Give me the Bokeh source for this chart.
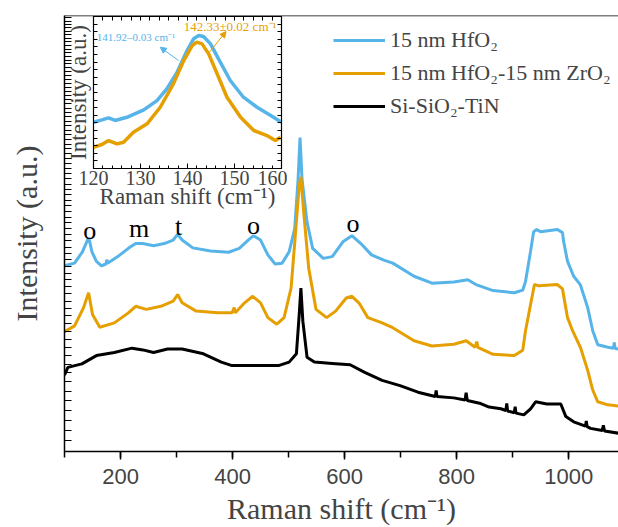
import numpy as np
from bokeh.plotting import figure
from bokeh.models import (Range1d, FixedTicker, LinearAxis, Legend, LegendItem,
                          Span, Arrow, NormalHead, Label)
from bokeh.core.properties import value
from bokeh.embed import file_html
from bokeh.resources import INLINE

# ---------------- data ----------------
hfo2_x = [100, 118, 132, 141, 143.5, 149, 157, 166, 174, 175.5,
          177, 195, 214, 227, 240, 259, 278, 294, 302, 310,
          329, 361, 393, 412, 428, 437.5, 450, 463, 476, 488.5,
          501, 511, 517, 520.5, 524, 533, 543, 562, 578, 597,
          613, 629, 648, 670, 686, 724, 756, 795, 820, 836,
          865, 903, 918, 923, 932, 937.5, 943, 950, 980, 989,
          991, 998, 1009, 1021, 1034, 1043, 1052, 1070, 1080, 1081.5,
          1083, 1089]
hfo2_y = [42.6, 43.2, 45.8, 48.5, 49.0, 45.8, 43.6, 42.6, 43.0, 44.0,
          43.2, 44.7, 46.6, 47.7, 47.7, 47.2, 47.7, 48.5, 49.8, 48.5,
          46.7, 46.0, 45.7, 46.6, 48.5, 49.5, 48.5, 45.1, 43.0, 43.2,
          45.8, 51.1, 62.5, 72.0, 62.5, 52.6, 46.6, 44.3, 44.7, 48.1,
          49.5, 47.7, 45.1, 43.9, 43.2, 40.2, 38.6, 38.9, 39.4, 38.2,
          36.9, 36.4, 37.0, 39.0, 45.9, 50.4, 50.9, 50.4, 50.9, 50.2,
          48.2, 43.6, 40.2, 38.2, 33.0, 27.7, 24.5, 23.9, 23.7, 25.0,
          23.6, 23.5]

zro2_x = [100, 118, 134, 143, 150, 163, 189, 214, 227, 246,
          272, 294, 302, 310, 335, 374, 399, 403, 405, 421.5,
          436, 450, 463, 479, 492, 504.5, 513, 519, 522, 527,
          536, 549, 568, 584, 603, 613, 625.5, 641.6, 667, 686,
          724, 756, 795, 817, 833, 836, 838, 865, 903, 918,
          923, 932, 939, 947, 980, 989, 998, 1007, 1021, 1034,
          1043, 1052, 1070, 1089]
zro2_y = [27.5, 28.8, 33.0, 36.4, 31.4, 28.5, 29.5, 31.8, 33.3, 32.6,
          33.3, 34.5, 36.0, 34.1, 32.2, 31.8, 31.8, 33.0, 31.8, 34.1,
          35.6, 34.1, 30.7, 29.2, 30.7, 37.5, 51.1, 61.0, 63.0, 54.9,
          42.0, 32.6, 30.7, 32.2, 35.2, 35.6, 34.1, 30.7, 29.5, 28.4,
          25.4, 24.2, 24.6, 25.4, 23.9, 25.2, 23.9, 22.3, 22.0, 23.2,
          27.7, 33.7, 38.3, 38.0, 38.3, 37.3, 30.7, 27.7, 23.9, 18.6,
          14.1, 11.4, 10.7, 10.4]

tin_x = [100, 106, 131, 157, 189, 220.5, 240, 259, 284, 310,
         348, 380, 399, 444, 482, 501, 514, 519, 522, 525.5,
         533, 546, 578, 610, 635, 667, 699, 731, 762, 763.5,
         765, 795, 815, 817, 819, 843, 858, 879, 888, 889.5,
         891, 903, 904.5, 906, 920, 932, 941, 961, 986, 995,
         1009, 1030, 1031.5, 1033, 1039, 1060, 1062, 1064, 1089]
tin_y = [17.5, 19.3, 20.1, 22.0, 22.7, 23.7, 23.3, 22.7, 23.5, 23.5,
         22.4, 20.5, 19.7, 19.7, 19.7, 20.5, 22.4, 31.4, 37.5, 29.9,
         21.6, 20.5, 20.2, 19.9, 18.2, 16.3, 15.1, 13.6, 12.6, 14.0,
         12.6, 12.3, 11.8, 13.5, 11.7, 11.0, 10.2, 9.8, 9.4, 11.0,
         9.3, 8.9, 10.3, 8.8, 8.4, 9.8, 11.4, 10.9, 10.9, 8.0,
         6.8, 5.8, 7.0, 5.7, 5.3, 4.8, 6.0, 4.7, 4.2]

series_labels = ["15 nm HfO\u2082", "15 nm HfO\u2082-15 nm ZrO\u2082", "Si-SiO\u2082-TiN"]
series_colors = ["#56B4E9", "#E69F00", "#000000"]

peak_x = [145, 233, 303.5, 437.5, 615]
peak_y = [50.75, 51.1, 51.5, 51.9, 52.3]
peak_text = ["o", "m", "t", "o", "o"]

x_major = [200, 400, 600, 800, 1000]
x_minor = [100, 200, 300, 400, 500, 600, 700, 800, 900, 1000]

# inset data
in_hfo2_x = [120, 121.8, 123.2, 124.6, 127.1, 130.7, 133.5, 135.6, 137.8, 139.9,
             141.3, 142.4, 143.4, 144.9, 146.6, 149.1, 151.9, 154.8, 157.7, 160]
in_hfo2_y = [30.4, 32.0, 33.3, 31.6, 33.7, 38.6, 44.7, 52.4, 63.3, 77.6,
             85.3, 87.5, 86.8, 82.0, 72.1, 57.9, 46.9, 40.3, 34.8, 30.4]
in_zro2_x = [120, 121.8, 123.2, 125, 126.4, 128.5, 131.4, 134.2, 137, 139.2,
             141, 142, 143.1, 144.5, 146.3, 148.4, 151.3, 154.1, 156.9, 158.7, 159.8]
in_zro2_y = [14, 15.8, 18.4, 16.2, 17.3, 23.9, 29.4, 40.3, 55.7, 71,
             80.9, 83.1, 82, 75.4, 62.3, 46.9, 33.7, 25, 21.7, 18.4, 20.6]
in_x_major = [120, 130, 140, 150, 160]
in_labels = ["141.92\u20130.03 cm\u207b\u00b9", "142.33\u00b10.02 cm\u207b\u00b9"]

SERIF = "Liberation Serif"
SANS = "Liberation Sans"

# ---------------- main figure ----------------
p = figure(width=618, height=527, x_range=Range1d(100, 1089), y_range=Range1d(0, 100),
           output_backend="svg", toolbar_location=None,
           min_border_left=64, min_border_right=0, min_border_top=15, min_border_bottom=72)
p.xgrid.visible = False
p.ygrid.visible = False
p.outline_line_color = None
p.background_fill_color = "white"
p.border_fill_color = "white"

r1 = p.line(hfo2_x, hfo2_y, line_color=series_colors[0], line_width=3)
r2 = p.line(zro2_x, zro2_y, line_color=series_colors[1], line_width=3)
r3 = p.line(tin_x, tin_y, line_color=series_colors[2], line_width=3)

p.text(x=peak_x, y=peak_y, text=peak_text, text_font=value(SERIF), text_font_size="26px",
       text_align="center", text_baseline="alphabetic", text_color="black")

p.add_layout(Span(location=100, dimension="width", line_color="black", line_width=1.5))

xa = p.xaxis[0]
xa.ticker = FixedTicker(ticks=x_major, minor_ticks=x_minor)
xa.axis_label = "Raman shift (cm\u207b\u00b9)"
xa.axis_label_text_font = SERIF
xa.axis_label_text_font_style = "normal"
xa.axis_label_text_font_size = "30px"
xa.axis_label_standoff = 5
xa.major_label_text_font = SANS
xa.major_label_text_font_size = "22px"
xa.major_label_standoff = 9
xa.major_tick_in = 0
xa.major_tick_out = 8
xa.minor_tick_in = 0
xa.minor_tick_out = 6
xa.axis_line_width = 1.5
xa.major_tick_line_width = 1.5
xa.minor_tick_line_width = 1.5

# unlabeled tick marks along the intensity axis (denser toward the top)
tk = np.log(1 + 0.03 * np.arange(0, 78)) / np.log(3.3) * 100
ya = p.yaxis[0]
ya.ticker = FixedTicker(ticks=[], minor_ticks=list(tk))
ya.major_label_standoff = 0
ya.axis_label = "Intensity (a.u.)"
ya.axis_label_text_font = SERIF
ya.axis_label_text_font_style = "normal"
ya.axis_label_text_font_size = "30px"
ya.axis_label_standoff = 22
ya.major_tick_in = 0
ya.major_tick_out = 0
ya.minor_tick_in = 7
ya.minor_tick_out = 0
ya.axis_line_width = 1.5
ya.minor_tick_line_width = 1.2

legend = Legend(items=[LegendItem(label=series_labels[0], renderers=[r1]),
                       LegendItem(label=series_labels[1], renderers=[r2]),
                       LegendItem(label=series_labels[2], renderers=[r3])],
                location=(269, 330), border_line_alpha=0, background_fill_alpha=0,
                padding=0, margin=0, spacing=3, glyph_width=52, glyph_height=30,
                label_height=30, label_standoff=5, label_text_font=SERIF,
                label_text_font_size="22px")
p.add_layout(legend)

# ---------------- inset figure ----------------
ins = figure(width=234, height=216, x_range=Range1d(120, 160), y_range=Range1d(0, 100),
             output_backend="svg", toolbar_location=None,
             min_border_left=40, min_border_right=6, min_border_top=4, min_border_bottom=60,
             styles={"position": "absolute", "left": "53px", "top": "12px"})
ins.xgrid.visible = False
ins.ygrid.visible = False
ins.border_fill_alpha = 0
ins.background_fill_color = "white"
ins.outline_line_color = "black"
ins.outline_line_width = 1.2

ins.line(in_hfo2_x, in_hfo2_y, line_color=series_colors[0], line_width=3.5)
ins.line(in_zro2_x, in_zro2_y, line_color=series_colors[1], line_width=3.5)

ins.add_layout(Arrow(x_start=138.1, y_start=71, x_end=134.2, y_end=79.8,
                     line_color=series_colors[0], line_width=1,
                     end=NormalHead(size=6, fill_color=series_colors[0], line_color=series_colors[0])))
ins.add_layout(Arrow(x_start=144.5, y_start=75.9, x_end=148.2, y_end=90.1,
                     line_color=series_colors[1], line_width=1,
                     end=NormalHead(size=6, fill_color=series_colors[1], line_color=series_colors[1])))
ins.add_layout(Label(x=120.7, y=86.8, text=in_labels[0], text_font=SERIF, text_font_size="11px",
                     text_color=series_colors[0], text_baseline="middle"))
ins.add_layout(Label(x=139.2, y=93.4, text=in_labels[1], text_font=SERIF, text_font_size="13px",
                     text_color=series_colors[1], text_baseline="middle"))

in_minor_x = list(range(120, 161, 2))
in_minor_y = list(range(0, 101, 5))

ixa = ins.xaxis[0]
ixa.ticker = FixedTicker(ticks=in_x_major, minor_ticks=in_minor_x)
ixa.axis_label = "Raman shift (cm\u207b\u00b9)"
ixa.axis_label_text_font = SERIF
ixa.axis_label_text_font_style = "normal"
ixa.axis_label_text_font_size = "23px"
ixa.axis_label_standoff = -4
ixa.major_label_text_font = SERIF
ixa.major_label_text_font_size = "20px"
ixa.major_label_standoff = 2
ixa.major_tick_in = 5
ixa.major_tick_out = 0
ixa.minor_tick_in = 3
ixa.minor_tick_out = 0

iya = ins.yaxis[0]
iya.ticker = FixedTicker(ticks=[], minor_ticks=in_minor_y)
iya.major_label_standoff = 0
iya.axis_label = "Intensity (a.u.)"
iya.axis_label_text_font = SERIF
iya.axis_label_text_font_style = "normal"
iya.axis_label_text_font_size = "23px"
iya.axis_label_standoff = 3
iya.major_tick_in = 0
iya.major_tick_out = 0
iya.minor_tick_in = 4
iya.minor_tick_out = 0

ins.add_layout(LinearAxis(ticker=FixedTicker(ticks=[], minor_ticks=in_minor_x),
                          major_label_standoff=0, major_tick_in=0, major_tick_out=0,
                          minor_tick_in=4, minor_tick_out=0), "above")
ins.add_layout(LinearAxis(ticker=FixedTicker(ticks=[], minor_ticks=in_minor_y),
                          major_label_standoff=0, major_tick_in=0, major_tick_out=0,
                          minor_tick_in=4, minor_tick_out=0), "right")

open("out.html", "w").write(file_html([p, ins], INLINE))
